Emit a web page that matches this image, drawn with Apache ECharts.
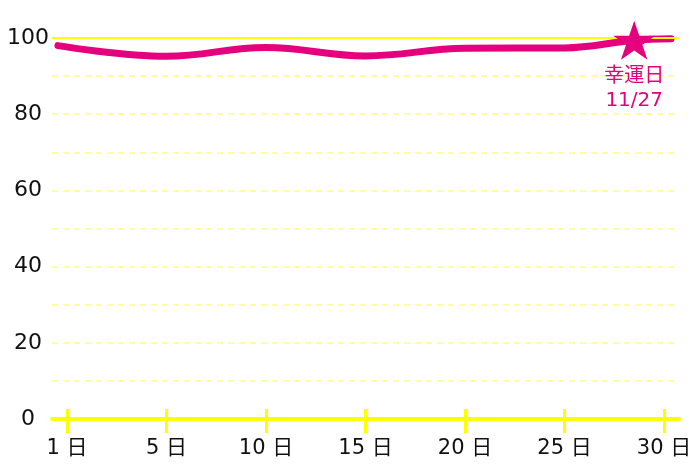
<!DOCTYPE html>
<html>
<head>
<meta charset="utf-8">
<script src="https://cdn.jsdelivr.net/npm/echarts@6/dist/echarts.min.js"></script>
<style>html,body{margin:0;padding:0;background:#fff}#c{width:700px;height:467px}</style>
</head>
<body>
<div id="c"></div>
<script>
// x tick positions (evenly spaced) and their labels
const xTickPos = [0, 1, 2, 3, 4, 5, 6];
const xTickLabels = ['1 日', '5 日', '10 日', '15 日', '20 日', '25 日', '30 日'];
// y ticks
const yTickLabels = [0, 20, 40, 60, 80, 100];
// line data (x on tick scale, value)
const lineX = [-0.09, 1, 2, 3, 4, 5, 5.7, 6.07];
const lineY = [98.0, 95.2, 97.5, 95.3, 97.3, 97.4, 99.4, 99.8];
// lucky day marker
const luckyX = 5.7;
const luckyY = 99.4;
const luckyText = '幸運日\n11/27';

const pink = '#E5007E';
const yellow = '#FFFF00';
const paleYellow = '#FFFF80';
const font = '"DejaVu Sans", "Noto Sans CJK JP", sans-serif';

const chart = echarts.init(document.getElementById('c'), null, {renderer: 'canvas'});
const starPath = 'path://M50,0 L61.8,35.3 L99,35.3 L69,57.1 L80.9,92.7 L50,70.9 L19.1,92.7 L31,57.1 L1,35.3 L38.2,35.3 Z';

chart.setOption({
  animation: false,
  backgroundColor: '#fff',
  grid: {left: 52, right: 21, top: 38, bottom: 48, containLabel: false},
  xAxis: [{
    type: 'value', min: -0.15, max: 6.15, position: 'bottom',
    axisLine: {show: true, lineStyle: {color: yellow, width: 4}},
    axisTick: {show: true, customValues: xTickPos, length: 14, lineStyle: {color: yellow, width: 3}},
    axisLabel: {customValues: xTickPos, formatter: v => xTickLabels[Math.round(v)], margin: 19,
      fontSize: 21, color: '#111', fontFamily: font},
    splitLine: {show: false}
  }, {
    type: 'value', min: -0.15, max: 6.15, position: 'bottom',
    axisLine: {show: false},
    axisTick: {show: true, inside: true, customValues: xTickPos, length: 10, lineStyle: {color: yellow, width: 3}},
    axisLabel: {show: false},
    splitLine: {show: false}
  }],
  yAxis: {
    type: 'value', min: 0, max: 100, interval: 10,
    axisLine: {show: false}, axisTick: {show: false},
    axisLabel: {customValues: yTickLabels, align: 'center', margin: 24, fontSize: 22, color: '#111', fontFamily: font},
    splitLine: {show: true, lineStyle: {color: paleYellow, width: 1.5, type: [6, 5]}}
  },
  series: [{
    type: 'line', xAxisIndex: 0, smooth: 0.4, showSymbol: false,
    data: lineX.map((x, i) => [x, lineY[i]]),
    lineStyle: {color: pink, width: 7, cap: 'round', join: 'round'},
    markLine: {
      silent: true, symbol: 'none', label: {show: false},
      lineStyle: {color: yellow, width: 2, type: 'solid'},
      data: [{yAxis: 100}]
    },
    markPoint: {
      silent: true,
      data: [{coord: [luckyX, luckyY]}],
      symbol: starPath, symbolSize: [42, 39],
      itemStyle: {color: pink},
      label: {show: true, position: 'bottom', distance: 5, formatter: luckyText,
        color: pink, fontSize: 20, lineHeight: 24, fontFamily: font}
    },
    z: 3
  }]
});
</script>
</body>
</html>
